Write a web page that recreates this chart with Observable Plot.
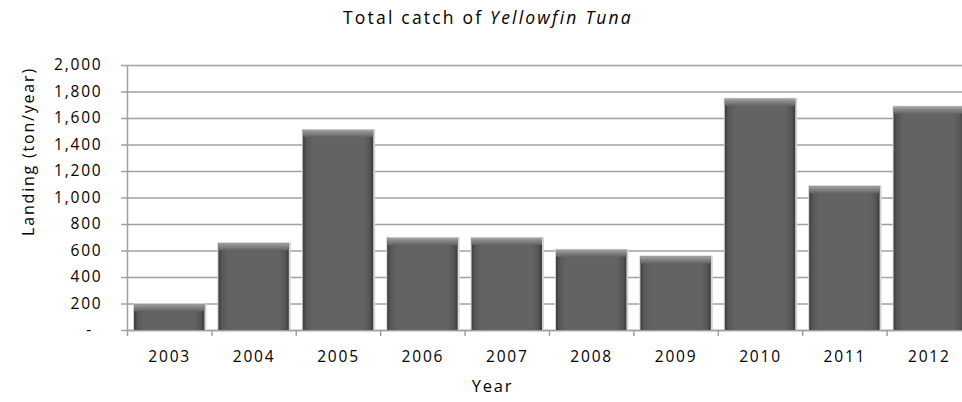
<!DOCTYPE html>
<html>
<head>
<meta charset="utf-8">
<script src="https://cdn.jsdelivr.net/npm/d3@7"></script>
<script src="https://cdn.jsdelivr.net/npm/@observablehq/plot@0.6"></script>
<style>
  html, body { margin: 0; padding: 0; background: #fff; overflow: hidden; }
  #wrap { position: relative; width: 962px; }
  #title { position: relative; height: 40px; font-family: "Open Sans", sans-serif; font-size: 17.5px; color: #000; }
  #title span { position: absolute; left: 488px; top: 5px; transform: translateX(-50%); white-space: nowrap; letter-spacing: 2.2px; }
  svg text { letter-spacing: 1.8px; }
</style>
</head>
<body>
<div id="wrap">
  <div id="title"><span id="titleText"></span></div>
  <div id="chart"></div>
</div>
<script>
const titlePlain = "Total catch of ";
const titleItalic = "Yellowfin Tuna";
const xLabel = "Year";
const yLabel = "Landing (ton/year)";
const years = [2003, 2004, 2005, 2006, 2007, 2008, 2009, 2010, 2011, 2012];
const landing = [195, 655, 1510, 695, 695, 605, 555, 1745, 1085, 1685];
const yTicks = [0, 200, 400, 600, 800, 1000, 1200, 1400, 1600, 1800, 2000];
const yTickLabels = ["-\u2002", "200", "400", "600", "800", "1,000", "1,200", "1,400", "1,600", "1,800", "2,000"];

const t = document.getElementById("titleText");
t.appendChild(document.createTextNode(titlePlain));
const it = document.createElement("i");
it.textContent = titleItalic;
t.appendChild(it);

const data = years.map((year, i) => ({year, value: landing[i]}));
const boundaries = years.map(y => y - 0.5).concat([years[years.length - 1] + 0.5]);

const font = {fontFamily: "Open Sans", fontSize: 15.5, fill: "#000"};

const chart = Plot.plot({
  width: 962,
  height: 362,
  marginLeft: 127,
  marginRight: -9,
  marginTop: 25,
  marginBottom: 72,
  style: {fontFamily: "Open Sans", background: "#fff", overflow: "hidden"},
  x: {type: "linear", domain: [boundaries[0], boundaries[boundaries.length - 1]], label: null},
  y: {domain: [0, 2000], label: null},
  marks: [
    Plot.gridY(yTicks, {stroke: "#a0a0a0", strokeOpacity: 1, strokeWidth: 1.5}),
    Plot.ruleY([0], {stroke: "#a0a0a0", strokeWidth: 1.5}),
    Plot.ruleX([boundaries[0]], {y1: 0, y2: 2000, stroke: "#a0a0a0", strokeWidth: 1.5}),
    Plot.axisY(yTicks, {anchor: "left", tickSize: 6, tickPadding: 19, stroke: "#a0a0a0", strokeWidth: 1.5,
      tickFormat: (d) => yTickLabels[yTicks.indexOf(d)], ...font}),
    Plot.axisX(boundaries, {anchor: "bottom", tickSize: 6, stroke: "#a0a0a0", strokeWidth: 1.5, tickFormat: () => ""}),
    Plot.axisX(years, {anchor: "bottom", tickSize: 0, tickPadding: 20, tickFormat: d => String(d), ...font}),
    Plot.rect(data, {x1: d => d.year - 0.5, x2: d => d.year + 0.5, y1: 0, y2: "value",
      insetLeft: 6, insetRight: 5, insetTop: -1, fill: "#d4d4d4"}),
    Plot.rect(data, {x1: d => d.year - 0.5, x2: d => d.year + 0.5, y1: 0, y2: "value",
      insetLeft: 7, insetRight: 7, fill: "url(#barGrad)"}),
    Plot.rect(data, {x1: d => d.year - 0.5, x2: d => d.year + 0.5, y1: "value", y2: "value",
      insetLeft: 7, insetRight: 7, insetBottom: -7, fill: "url(#bevelGrad)"}),
    Plot.text([yLabel], {frameAnchor: "top-left", dx: -105, dy: 86, rotate: -90, textAnchor: "middle",
      fontFamily: "Open Sans", fontSize: 16, fill: "#000"}),
    Plot.text([xLabel], {frameAnchor: "bottom", dx: -57, dy: 61, fontFamily: "Open Sans", fontSize: 16.5, fill: "#000"})
  ]
});

d3.select(chart).insert("defs", ":first-child").html(`
  <linearGradient id="barGrad" x1="0" y1="0" x2="1" y2="0">
    <stop offset="0%" stop-color="#3c3c3c"/>
    <stop offset="5%" stop-color="#575757"/>
    <stop offset="14%" stop-color="#636363"/>
    <stop offset="86%" stop-color="#636363"/>
    <stop offset="95%" stop-color="#555555"/>
    <stop offset="100%" stop-color="#393939"/>
  </linearGradient>
  <linearGradient id="bevelGrad" x1="0" y1="0" x2="0" y2="1">
    <stop offset="0%" stop-color="#a4a4a4"/>
    <stop offset="35%" stop-color="#8a8a8a"/>
    <stop offset="100%" stop-color="#646464"/>
  </linearGradient>
`);

document.getElementById("chart").appendChild(chart);
</script>
</body>
</html>
